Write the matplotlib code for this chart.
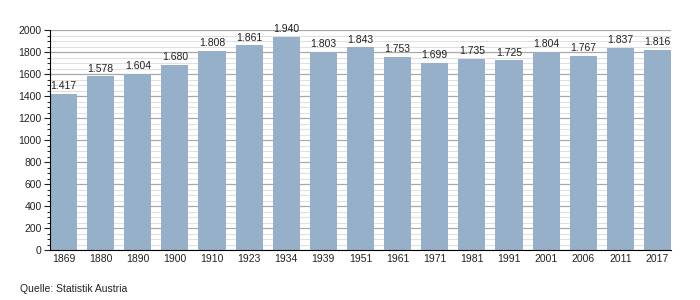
import numpy as np
import matplotlib
matplotlib.use("Agg")
import matplotlib.pyplot as plt
from matplotlib.ticker import MultipleLocator

plt.rcParams["font.family"] = ["Liberation Sans", "DejaVu Sans"]

years = ["1869", "1880", "1890", "1900", "1910", "1923", "1934", "1939", "1951",
         "1961", "1971", "1981", "1991", "2001", "2006", "2011", "2017"]
population = [1417, 1578, 1604, 1680, 1808, 1861, 1940, 1803, 1843,
              1753, 1699, 1735, 1725, 1804, 1767, 1837, 1816]

BAR_COLOR = "#97b0c9"
W = 0.73

fig = plt.figure(figsize=(7, 3), dpi=100)
ax = fig.add_axes([50 / 700, 50 / 300, 621 / 700, 220 / 300])

x = np.arange(len(years))
ax.bar(x, population, width=W, color=BAR_COLOR, zorder=3)
for xi, v in zip(x, population):
    ax.text(xi, v + 25, f"{v / 1000:.3f}", ha="center", va="bottom",
            fontsize=7.5, color="#222222", zorder=4)

ax.set_xlim(-W / 2, len(years) - 1 + W / 2)
ax.set_ylim(0, 2000)
ax.yaxis.set_major_locator(MultipleLocator(200))
ax.yaxis.set_minor_locator(MultipleLocator(50))
ax.grid(which="major", axis="y", color="#a8a8a8", linewidth=0.9, zorder=1)
ax.grid(which="minor", axis="y", color="#e0e0e0", linewidth=0.8, zorder=0)

ax.set_xticks(x)
ax.set_xticklabels(years)
ax.tick_params(axis="x", length=0, labelsize=7.5, pad=3, colors="#222222")
ax.tick_params(axis="y", which="major", length=4, width=0.8, labelsize=7.5,
               colors="#222222", pad=2)
ax.tick_params(axis="y", which="minor", length=2, width=0.6)

for s in ["top", "right"]:
    ax.spines[s].set_visible(False)
ax.spines["left"].set_color("black")
ax.spines["bottom"].set_color("black")
ax.spines["left"].set_zorder(5)
ax.spines["bottom"].set_zorder(5)

fig.text(20 / 700, 1 - 289 / 300, "Quelle: Statistik Austria", fontsize=7.5,
         va="center", ha="left", color="#222222")

fig.savefig("out.png", dpi=100)
